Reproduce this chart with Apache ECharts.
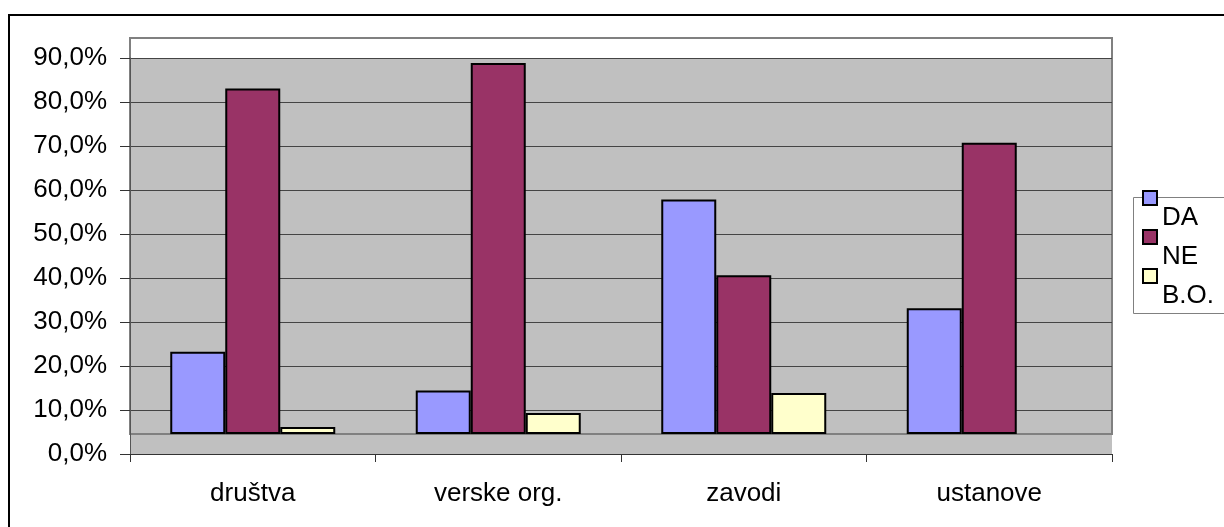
<!DOCTYPE html>
<html>
<head>
<meta charset="utf-8">
<script src="https://cdn.jsdelivr.net/npm/echarts@6/dist/echarts.min.js"></script>
<style>
  html, body { margin: 0; padding: 0; background: #fff; }
  #chart { width: 1224px; height: 527px; }
</style>
</head>
<body>
<div id="chart"></div>
<script>
// podatki (v %)
const categories = ['društva', 'verske org.', 'zavodi', 'ustanove'];
const seriesNames = ['DA', 'NE', 'B.O.'];
const daValues = [18.7, 9.9, 53.3, 28.6];
const neValues = [78.5, 84.3, 36.1, 66.2];
const boValues = [1.6, 4.8, 9.3, null];
const yMin = 0;
const yMax = 90;
const yStep = 10;

const colors = ['#9999FF', '#993366', '#FFFFCC'];
const font = "'Liberation Sans', Arial, sans-serif";

const chart = echarts.init(document.getElementById('chart'));

function barSeries(name, data, color) {
  return {
    name: name,
    type: 'bar',
    xAxisIndex: 1,
    yAxisIndex: 1,
    data: data,
    barWidth: 55,
    barGap: '0%',
    itemStyle: { color: color, borderColor: '#000', borderWidth: 2 }
  };
}

// ena legenda na postavko, besedilo pod kvadratkom
function legendItem(name, top) {
  return {
    orient: 'vertical',
    left: 1142,
    top: top,
    padding: 0,
    icon: 'rect',
    itemWidth: 14,
    itemHeight: 14,
    data: [name],
    formatter: n => '\n' + n,
    itemStyle: { borderColor: '#000', borderWidth: 2 },
    textStyle: { fontSize: 26, color: '#000', fontFamily: font, lineHeight: 39 }
  };
}

chart.setOption({
  animation: false,
  textStyle: { fontFamily: font },
  graphic: [
    {
      type: 'rect', z: 0,
      shape: { x: 9, y: 15, width: 1300, height: 600 },
      style: { fill: 'none', stroke: '#000', lineWidth: 2 }
    },
    {
      type: 'rect', z: 0,
      shape: { x: 1133.5, y: 197.5, width: 200, height: 116 },
      style: { fill: '#fff', stroke: '#808080', lineWidth: 1 }
    }
  ],
  // grid 0: os z oznakami, grid 1: stolpci (zamaknjeni za globino)
  grid: [
    { left: 130, top: 58, width: 982, height: 396, show: true,
      backgroundColor: '#C0C0C0', borderWidth: 0 },
    { left: 130, top: 38, width: 982, height: 396, show: true,
      backgroundColor: 'transparent', borderColor: '#808080', borderWidth: 2 }
  ],
  legend: [
    legendItem('DA', 159),
    legendItem('NE', 198),
    legendItem('B.O.', 237)
  ],
  xAxis: [
    {
      type: 'category',
      gridIndex: 0,
      data: categories,
      axisLine: { lineStyle: { color: '#333', width: 1 } },
      axisTick: { show: true, length: 8, lineStyle: { color: '#333' } },
      axisLabel: { fontSize: 26, color: '#000', margin: 27, fontFamily: font }
    },
    {
      type: 'category',
      gridIndex: 1,
      data: categories,
      show: false
    }
  ],
  yAxis: [
    {
      type: 'value',
      gridIndex: 0,
      min: yMin,
      max: yMax,
      interval: yStep,
      axisLine: { show: true, lineStyle: { color: '#555', width: 1 } },
      axisTick: { show: true, length: 10, lineStyle: { color: '#333' } },
      splitLine: { show: true, lineStyle: { color: '#444', width: 1.2 } },
      axisLabel: {
        fontSize: 26, color: '#000', margin: 23, fontFamily: font,
        formatter: v => v.toFixed(1).replace('.', ',') + '%'
      }
    },
    {
      type: 'value',
      gridIndex: 1,
      min: yMin,
      max: yMax,
      show: false
    }
  ],
  series: [
    barSeries('DA', daValues, colors[0]),
    barSeries('NE', neValues, colors[1]),
    barSeries('B.O.', boValues, colors[2])
  ]
});
</script>
</body>
</html>
